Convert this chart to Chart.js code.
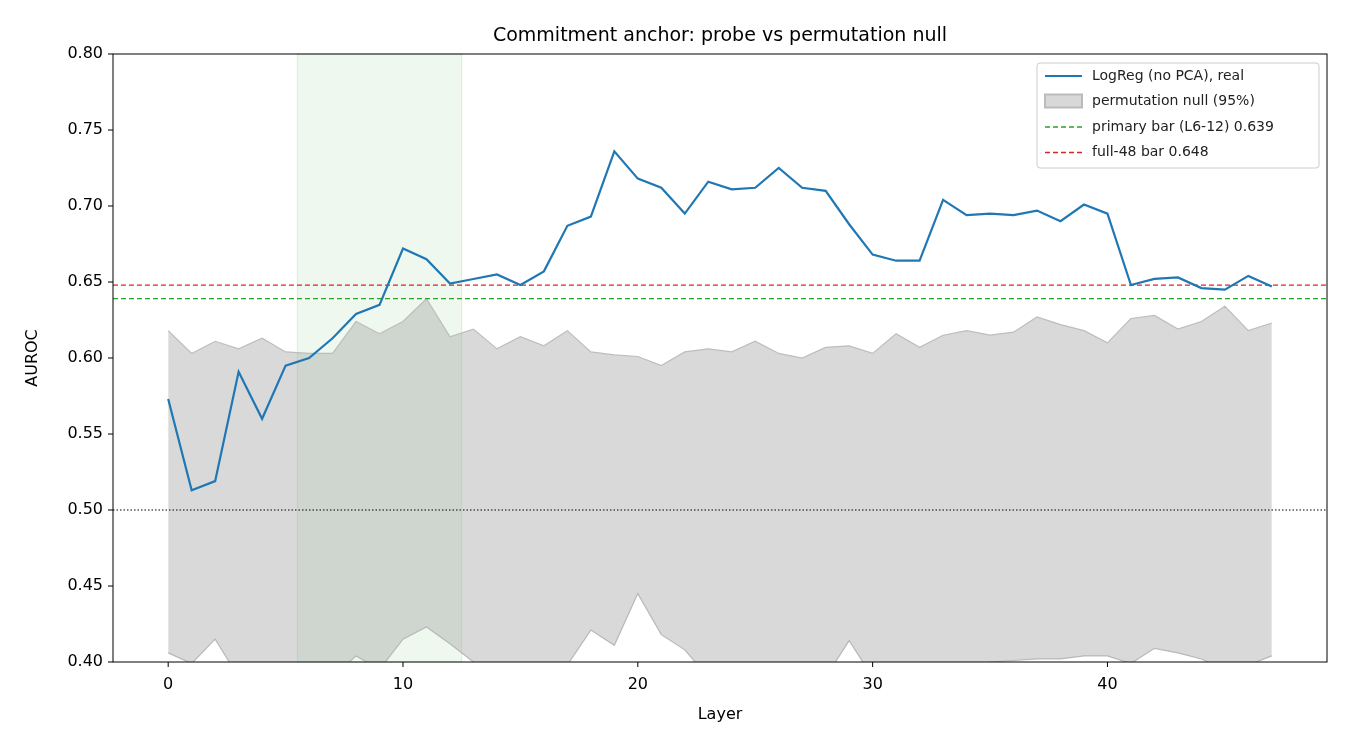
<!DOCTYPE html>
<html><head><meta charset="utf-8">
<script src="https://cdn.jsdelivr.net/npm/chart.js@4"></script>
<style>body{margin:0;background:#fff}#w{width:1350px;height:750px}</style>
</head><body><div id="w"><canvas id="c"></canvas></div>
<script>
const layers = Array.from({length:48},(_,i)=>i);
const realAuroc = [0.573,0.513,0.519,0.591,0.560,0.595,0.600,0.613,0.629,0.635,0.672,0.665,0.649,0.652,0.655,0.648,0.657,0.687,0.693,0.736,0.718,0.712,0.695,0.716,0.711,0.712,0.725,0.712,0.710,0.688,0.668,0.664,0.664,0.704,0.694,0.695,0.694,0.697,0.690,0.701,0.695,0.648,0.652,0.653,0.646,0.645,0.654,0.647];
const nullHigh = [0.618,0.603,0.611,0.606,0.613,0.604,0.603,0.603,0.624,0.616,0.624,0.639,0.614,0.619,0.606,0.614,0.608,0.618,0.604,0.602,0.601,0.595,0.604,0.606,0.604,0.611,0.603,0.600,0.607,0.608,0.603,0.616,0.607,0.615,0.618,0.615,0.617,0.627,0.622,0.618,0.610,0.626,0.628,0.619,0.624,0.634,0.618,0.623];
const nullLow = [0.406,0.399,0.415,0.39,0.39,0.39,0.39,0.39,0.404,0.395,0.415,0.423,0.412,0.400,0.39,0.39,0.39,0.398,0.421,0.411,0.445,0.418,0.408,0.39,0.39,0.39,0.39,0.39,0.39,0.414,0.39,0.39,0.39,0.39,0.39,0.400,0.401,0.402,0.402,0.404,0.404,0.399,0.409,0.406,0.402,0.395,0.398,0.404];
const primaryBar = 0.639, fullBar = 0.648, chance = 0.5;
const span = [5.5, 12.5];
const xMin = -2.35, xMax = 49.35;
const xTicks = [0,10,20,30,40];
const yTicks = [0.4,0.45,0.5,0.55,0.6,0.65,0.7,0.75,0.8];
const xy = a => a.map((v,i)=>({x:layers[i],y:v}));
const hl = v => [{x:xMin,y:v},{x:xMax,y:v}];
const F = 'DejaVu Sans';
const legendItems = [
 {t:'LogReg (no PCA), real',k:'line',c:'#1f77b4'},
 {t:'permutation null (95%)',k:'box'},
 {t:'primary bar (L6-12) 0.639',k:'dash',c:'#2ca02c'},
 {t:'full-48 bar 0.648',k:'dash',c:'#d62728'}];
const deco = {
 id:'deco',
 beforeDatasetsDraw(ch){
  const {ctx,chartArea:a,scales:{x}} = ch;
  ctx.save();ctx.fillStyle='rgba(44,160,44,0.08)';ctx.strokeStyle='rgba(44,160,44,0.15)';
  const l=x.getPixelForValue(span[0]),r=x.getPixelForValue(span[1]);
  ctx.fillRect(l,a.top,r-l,a.bottom-a.top);ctx.strokeRect(l,a.top,r-l,a.bottom-a.top);ctx.restore();
 },
 afterDraw(ch){
  const {ctx,chartArea:a,scales:{x,y}} = ch;
  ctx.save();
  ctx.strokeStyle='#000';ctx.lineWidth=1;ctx.strokeRect(a.left,a.top,a.right-a.left,a.bottom-a.top);
  ctx.fillStyle='#000';ctx.font='16px '+F;
  ctx.textAlign='center';ctx.textBaseline='top';
  xTicks.forEach(v=>{const p=x.getPixelForValue(v);ctx.beginPath();ctx.moveTo(p,a.bottom);ctx.lineTo(p,a.bottom+5);ctx.stroke();ctx.fillText(String(v),p,a.bottom+15);});
  ctx.textAlign='right';ctx.textBaseline='middle';
  yTicks.forEach(v=>{const p=y.getPixelForValue(v);ctx.beginPath();ctx.moveTo(a.left,p);ctx.lineTo(a.left-5,p);ctx.stroke();ctx.fillText(v.toFixed(2),a.left-10,p);});
  ctx.textAlign='center';ctx.textBaseline='middle';
  ctx.fillText('Layer',(a.left+a.right)/2,715);
  ctx.save();ctx.translate(33,(a.top+a.bottom)/2);ctx.rotate(-Math.PI/2);ctx.fillText('AUROC',0,0);ctx.restore();
  ctx.font='19px '+F;ctx.textBaseline='alphabetic';
  ctx.fillText('Commitment anchor: probe vs permutation null',(a.left+a.right)/2,41);
  const bx=1037,by=63,bw=282,bh=105;
  ctx.fillStyle='rgba(255,255,255,0.85)';ctx.strokeStyle='#ccc';
  ctx.beginPath();ctx.roundRect(bx,by,bw,bh,3);ctx.fill();ctx.stroke();
  ctx.font='14px '+F;ctx.textAlign='left';ctx.textBaseline='middle';
  legendItems.forEach((it,i)=>{
   const yy=by+13+i*25.5,x0=bx+8;
   if(it.k==='box'){ctx.fillStyle='#d8d8d8';ctx.strokeStyle='#bbb';ctx.fillRect(x0,yy-7,37,13);ctx.strokeRect(x0,yy-7,37,13);}
   else{ctx.strokeStyle=it.c;ctx.lineWidth=it.k==='line'?2:1.5;ctx.setLineDash(it.k==='dash'?[5,3]:[]);
    ctx.beginPath();ctx.moveTo(x0,yy);ctx.lineTo(x0+37,yy);ctx.stroke();ctx.setLineDash([]);}
   ctx.fillStyle='#222';ctx.fillText(it.t,x0+47,yy);
  });
  ctx.restore();
 }
};
new Chart(document.getElementById('c'),{
 type:'line',
 data:{datasets:[
  {data:xy(nullLow),borderColor:'#bdbdbd',borderWidth:1.2,pointRadius:0,fill:false,order:5},
  {data:xy(nullHigh),borderColor:'#bdbdbd',borderWidth:1.2,pointRadius:0,fill:'-1',backgroundColor:'rgba(170,170,170,0.45)',order:4},
  {data:hl(chance),borderColor:'#000',borderWidth:1.1,borderDash:[1.5,2],pointRadius:0,fill:false,order:3},
  {data:hl(primaryBar),borderColor:'#2ca02c',borderWidth:1.3,borderDash:[5,3],pointRadius:0,fill:false,order:2},
  {data:hl(fullBar),borderColor:'#d62728',borderWidth:1.3,borderDash:[5,3],pointRadius:0,fill:false,order:1},
  {data:xy(realAuroc),borderColor:'#1f77b4',borderWidth:2.2,pointRadius:0,fill:false,order:0}
 ]},
 options:{
  responsive:true,maintainAspectRatio:false,animation:false,
  layout:{padding:{top:54,right:23,left:0,bottom:0}},
  plugins:{legend:{display:false},tooltip:{enabled:false}},
  scales:{
   x:{type:'linear',min:xMin,max:xMax,afterFit(s){s.height=88;},
      grid:{display:false},border:{display:false},ticks:{display:false}},
   y:{min:0.4,max:0.8,afterFit(s){s.width=113;},
      grid:{display:false},border:{display:false},ticks:{display:false}}
  }
 },
 plugins:[deco]
});
</script></body></html>
